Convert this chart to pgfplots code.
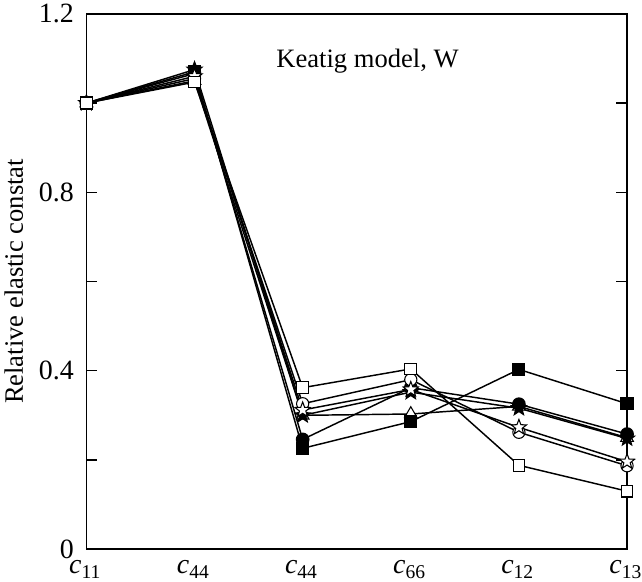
\documentclass[border=0pt]{standalone}
\usepackage{fontspec}
\setmainfont{Liberation Serif}
\newfontfamily\tnr{Liberation Serif}
\usepackage{pgfplots}
\pgfplotsset{compat=1.18}

% five-point star, filled with the mark fill colour
\pgfdeclareplotmark{pstar}{%
  \pgfpathmoveto{\pgfpointpolar{90}{\pgfplotmarksize}}%
  \pgfpathlineto{\pgfpointpolar{126}{0.42\pgfplotmarksize}}%
  \pgfpathlineto{\pgfpointpolar{162}{\pgfplotmarksize}}%
  \pgfpathlineto{\pgfpointpolar{198}{0.42\pgfplotmarksize}}%
  \pgfpathlineto{\pgfpointpolar{234}{\pgfplotmarksize}}%
  \pgfpathlineto{\pgfpointpolar{270}{0.42\pgfplotmarksize}}%
  \pgfpathlineto{\pgfpointpolar{306}{\pgfplotmarksize}}%
  \pgfpathlineto{\pgfpointpolar{342}{0.42\pgfplotmarksize}}%
  \pgfpathlineto{\pgfpointpolar{18}{\pgfplotmarksize}}%
  \pgfpathlineto{\pgfpointpolar{54}{0.42\pgfplotmarksize}}%
  \pgfpathclose
  \pgfusepathqfillstroke}

\begin{document}
\begin{tikzpicture}
\begin{axis}[
    scale only axis,
    width=407pt, height=403pt,
    xmin=0, xmax=5, ymin=0, ymax=1.2,
    clip=false,
    xtick={0,1,2,3,4,5},
    xticklabels={\textit{c}\textsubscript{11}, \textit{c}\textsubscript{44}, \textit{c}\textsubscript{44}, \textit{c}\textsubscript{66}, \textit{c}\textsubscript{12}, \textit{c}\textsubscript{13}},
    xtick pos=bottom,
    major x tick style={draw=none},
    xticklabel style={inner sep=0pt, text depth=6pt, yshift=-8.5pt, xshift=-1pt, font=\tnr\fontsize{21}{25}\selectfont},
    ytick={0,0.4,0.8,1.2},
    yticklabels={0,0.4,0.8,1.2},
    minor ytick={0.2,0.6,1.0},
    ytick pos=both,
    yticklabel style={xshift=-6pt, font=\tnr\fontsize{21}{25}\selectfont},
    major tick length=8pt, minor tick length=8pt,
    tick style={line width=1pt, black},
    axis line style={line width=1.3pt},
    /pgf/number format/assume math mode=true,
    label style={font=\tnr\fontsize{20}{24}\selectfont},
    ylabel={Relative elastic constat},
    ylabel style={yshift=5pt},
    every axis plot/.append style={black, line width=1.1pt, mark size=4.6pt},
]
% open triangle
\addplot[mark=triangle*, mark options={fill=white, line width=0.8pt}, mark size=5.5pt] coordinates {(0,1.0) (1,1.05) (2,0.300) (3,0.303) (4,0.320) (5,0.250)};
% filled square
\addplot[mark=square*, mark options={fill=black}, mark size=4.4pt] coordinates {(0,1.0) (1,1.070) (2,0.226) (3,0.286) (4,0.403) (5,0.326)};
% filled star
\addplot[mark=pstar, mark options={fill=black, line width=0.8pt}, mark size=6pt] coordinates {(0,1.0) (1,1.075) (2,0.300) (3,0.352) (4,0.316) (5,0.248)};
% filled circle
\addplot[mark=*, mark options={fill=black}] coordinates {(0,1.0) (1,1.066) (2,0.246) (3,0.362) (4,0.325) (5,0.258)};
% open circle
\addplot[mark=*, mark options={fill=white, line width=0.8pt}] coordinates {(0,1.0) (1,1.055) (2,0.326) (3,0.380) (4,0.262) (5,0.187)};
% open star
\addplot[mark=pstar, mark options={fill=white, line width=0.8pt}, mark size=6pt] coordinates {(0,1.0) (1,1.060) (2,0.312) (3,0.358) (4,0.273) (5,0.196)};
% open square
\addplot[mark=square*, mark options={fill=white, line width=0.8pt}, mark size=4.4pt] coordinates {(0,1.0) (1,1.047) (2,0.362) (3,0.404) (4,0.188) (5,0.130)};
\node[font=\tnr\fontsize{20}{24}\selectfont] at (axis cs:2.6,1.095) {Keatig model, W};
\end{axis}
\end{tikzpicture}
\end{document}
